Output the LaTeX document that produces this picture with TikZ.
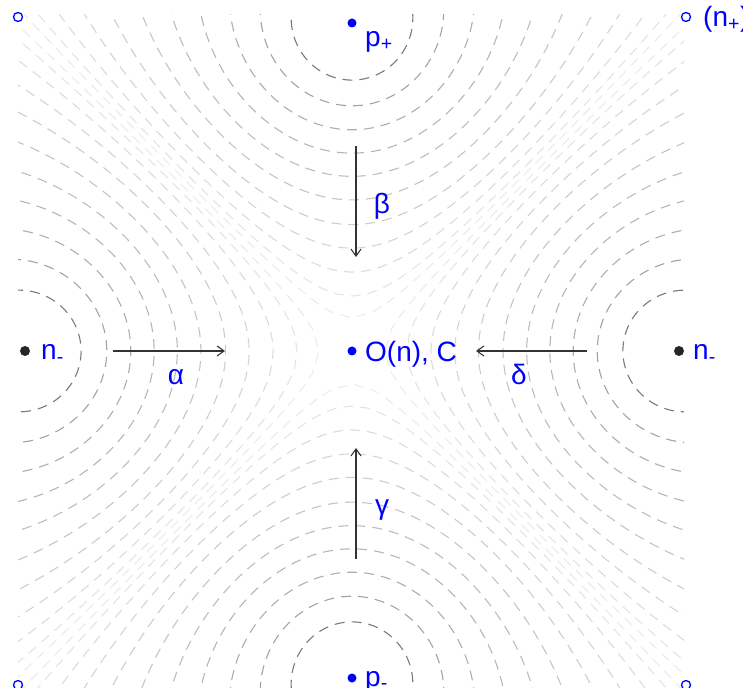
\documentclass[tikz,border=0pt]{standalone}
\usepackage{fontspec}
\setmainfont{Liberation Sans}
\usetikzlibrary{arrows.meta,positioning}

\begin{document}
\begin{tikzpicture}[
    x=1pt, y=1pt,
    contour/.style={dash pattern=on 10pt off 7pt, line width=1.1pt, draw=black!#1},
    bluedot/.style={circle, fill=blue, inner sep=0pt, minimum size=9pt},
    blackdot/.style={circle, fill=black!85, inner sep=0pt, minimum size=10pt},
    ring/.style={circle, draw=blue, line width=1.3pt, inner sep=0pt, minimum size=9pt},
    lbl/.style={font=\fontsize{28}{32}\selectfont, text=blue, inner sep=0pt},
    arrow/.style={-{Straight Barb[length=7pt, width=10pt]}, line width=1.1pt, black!80},
]
\useasboundingbox (-352,-336) rectangle (391,351);

% Level curves round the four points
\begin{scope}
  \clip (-334,-337) rectangle (332,336);
  \foreach \L/\g in {0.186/52, 0.28/36, 0.372/32, 0.464/29, 0.556/26, 0.648/23,
                     0.74/20, 0.82/17, 0.89/14, 0.945/11, 0.98/8}
    \foreach \r in {0,90,180,270}
      \draw[contour=\g, rotate=\r] plot[domain=10:350, samples=181, variable=\s]
        ({atan2(2*\L*sin(\s), 1-\L*\L)/2}:{327*sqrt(veclen(1-\L*\L, 2*\L*sin(\s))/(1+\L*\L-2*\L*cos(\s)))});
\end{scope}

% Points
\node[bluedot]  (origin) at (0,0) {};
\node[bluedot]  (pplus)  at (0,328) {};
\node[bluedot]  (pminus) at (0,-327) {};
\node[blackdot] (nleft)  at (-327,0) {};
\node[blackdot] (nright) at (327,0) {};
\node[ring] (cornerNW) at (-334,334) {};
\node[ring] (cornerNE) at (334,334) {};
\node[ring] (cornerSW) at (-334,-334) {};
\node[ring] (cornerSE) at (334,-334) {};

% Labels
\node[lbl, anchor=base west] (originlbl) at (13,-11) {O(n), C};
\node[lbl, anchor=base west] (pplbl)  at (13,304) {p\textsubscript{+}};
\node[lbl, anchor=base west] (pmlbl)  at (13,-335) {p\textsubscript{-}};
\node[lbl, anchor=base west] (nllbl)  at (-311,-9) {n\textsubscript{-}};
\node[lbl, anchor=base west] (nrlbl)  at (341,-9) {n\textsubscript{-}};
\node[lbl, anchor=base west] (nplbl)  at (351,324) {(n\textsubscript{+})};

% Arrows towards the centre
\coordinate (alphaS) at (-239,0);  \coordinate (alphaE) at (-127,0);
\coordinate (betaS)  at (4,205);   \coordinate (betaE)  at (4,94);
\coordinate (gammaS) at (4,-208);  \coordinate (gammaE) at (4,-97);
\coordinate (deltaS) at (235,0);   \coordinate (deltaE) at (124,0);
\draw[arrow] (alphaS) -- (alphaE);
\draw[arrow] (betaS) -- (betaE);
\draw[arrow] (gammaS) -- (gammaE);
\draw[arrow] (deltaS) -- (deltaE);

\node[lbl] (alphalbl) at (-176,-26) {α};
\node[lbl] (betalbl)  at (30,145)   {β};
\node[lbl] (gammalbl) at (30,-159)  {γ};
\node[lbl] (deltalbl) at (167,-23)  {δ};

\end{tikzpicture}
\end{document}
